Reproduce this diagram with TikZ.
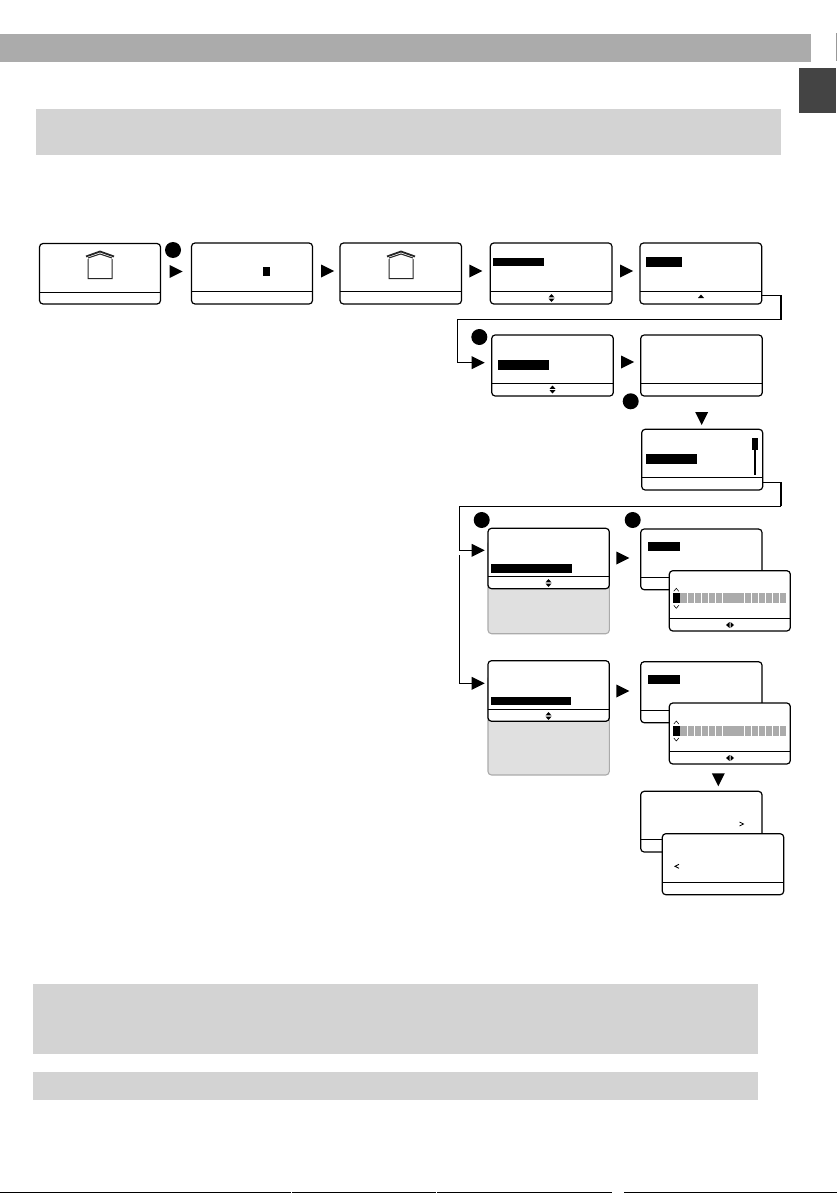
\documentclass[tikz,border=0pt]{standalone}
\definecolor{bandA}{HTML}{ABABAB}
\definecolor{bandB}{HTML}{D3D3D3}
\definecolor{tabC}{HTML}{444444}
\definecolor{noteF}{HTML}{E0E0E0}
\definecolor{cellC}{HTML}{ABABAB}
\tikzset{
  screenbox/.style={draw=black,fill=white,line width=1.2pt,rounded corners=3.5pt,inner sep=0pt,outer sep=0pt,anchor=center},
  notebox/.style={draw=bandA,fill=noteF,line width=1.1pt,rounded corners=3.5pt,inner sep=0pt,outer sep=0pt,anchor=center},
  divider/.style={line width=.9pt},
  heavyconn/.style={line width=1.3pt,line cap=butt,line join=miter},
  thinconn/.style={line width=.9pt,line cap=butt,line join=miter},
  chev/.style={line width=.55pt},
  badge/.style={circle,fill=black,minimum size=16pt,inner sep=0pt,outer sep=0pt}
}
% name x1 y1 x2 y2 ydiv
\newcommand{\scrn}[6]{%
  \pgfmathsetmacro{\mycx}{(#2+#4)/2}\pgfmathsetmacro{\mycy}{(#3+#5)/2}%
  \pgfmathsetmacro{\mywd}{#4-#2}\pgfmathsetmacro{\myht}{#5-#3}%
  \node[screenbox,minimum width=\mywd pt,minimum height=\myht pt] (#1) at (\mycx,\mycy) {};%
  \draw[divider] (#1.west |- 0,#6) -- (#1.east |- 0,#6);}
\newcommand{\notep}[5]{%
  \pgfmathsetmacro{\mycx}{(#2+#4)/2}\pgfmathsetmacro{\mycy}{(#3+#5)/2}%
  \pgfmathsetmacro{\mywd}{#4-#2}\pgfmathsetmacro{\myht}{#5-#3}%
  \node[notebox,minimum width=\mywd pt,minimum height=\myht pt] (#1) at (\mycx,\mycy) {};}
\newcommand{\barfill}[4]{\fill[black] (#1,#2) rectangle (#3,#4);}
\newcommand{\rtri}[3]{\coordinate (#1) at (#2,#3); \fill[black] (#2,#3-6.5) -- (#2+13,#3) -- (#2,#3+6.5) -- cycle;}
\newcommand{\dtri}[3]{\coordinate (#1) at (#2,#3); \fill[black] (#2-6.5,#3) -- (#2+6.5,#3) -- (#2,#3+13) -- cycle;}
\newcommand{\updown}[2]{\fill[black] (#1-3,#2-.6) -- (#1+3,#2-.6) -- (#1,#2-4) -- cycle; \fill[black] (#1-3,#2+.6) -- (#1+3,#2+.6) -- (#1,#2+4) -- cycle;}
\newcommand{\leftright}[2]{\fill[black] (#1-.5,#2-3) -- (#1-.5,#2+3) -- (#1-4,#2) -- cycle; \fill[black] (#1+.5,#2-3) -- (#1+.5,#2+3) -- (#1+4,#2) -- cycle;}
\newcommand{\house}[1]{%
  \draw[line width=1pt,draw=black!85] (#1-12,278.5) -- (#1-12,257) -- (#1,252.5) -- (#1+12,257) -- (#1+12,278.5) -- cycle;
  \fill[white] (#1-14,256) -- (#1,252) -- (#1+14,256) -- (#1+14,259.5) -- (#1,255) -- (#1-14,259.5) -- cycle;
  \draw[line width=1pt,draw=black!85] (#1-12,258) -- (#1,254) -- (#1+12,258);
  \draw[line width=1.8pt,draw=black!85] (#1-14,256.5) -- (#1,251.5) -- (#1+14,256.5);}
\newcommand{\cellrow}[1]{%
  \fill[black] (673,#1) rectangle (680,#1+10);
  \foreach \i in {1,...,6} {\fill[cellC] (673+\i*7.13+.3,#1) rectangle (673+\i*7.13+6.4,#1+10);}
  \fill[cellC] (723.3,#1) rectangle (744,#1+10);
  \foreach \i in {10,...,15} {\fill[cellC] (673+\i*7.13+.3,#1) rectangle (673+\i*7.13+6.4,#1+10);}
  \draw[chev] (673.8,#1-2) -- (676.3,#1-5) -- (678.8,#1-2);
  \draw[chev] (673.8,#1+12) -- (676.3,#1+15) -- (678.8,#1+12);}
\begin{document}
\begin{tikzpicture}[x=1pt,y=-1pt]
\useasboundingbox (0,0) rectangle (837,1193);
% page bands
\fill[bandA] (0,34) rectangle (811,62);
\fill[black!40] (836,33) rectangle (837,61);
\fill[tabC] (799,68) rectangle (836,113);
\fill[bandB] (36,109) rectangle (781,155);
\fill[bandB] (33,984) rectangle (758,1054);
\fill[bandB] (33,1072) rectangle (758,1100);
\fill[black] (0,1192) rectangle (291,1193);
\fill[black] (292,1192) rectangle (436,1193);
\fill[black] (437,1192) rectangle (612,1193);
\fill[black] (624,1192) rectangle (837,1193);
% row 1
\scrn{s1}{39.5}{243.5}{160.5}{304}{292.5}
\house{100}
\scrn{s2}{191.5}{243}{312.5}{304}{291}
\barfill{263}{267}{270}{276}
\scrn{s3}{340}{243}{461.5}{304}{291}
\house{401}
\scrn{s4}{490.3}{243}{612}{304}{291}
\barfill{493}{258}{544}{266}
\updown{551.5}{298}
\scrn{s5}{640}{243}{761.7}{304}{291}
\barfill{646}{257}{682}{267}
\fill[black] (698,298) -- (704,298) -- (701,294.5) -- cycle;
\node[badge] (b1) at (173,250) {};
\rtri{a1}{169.7}{271.5}
\rtri{a2}{321}{271}
\rtri{a3}{469.3}{271}
\rtri{a4}{620}{271}
% row 2
\scrn{s6}{491.7}{335}{613.3}{396}{383.3}
\barfill{498}{360}{549}{370}
\updown{552.5}{389.5}
\scrn{s7}{640.7}{335}{762.3}{396}{383.3}
\node[badge] (b2) at (479.3,337) {};
\node[badge] (b3) at (630.7,401.3) {};
\rtri{a5}{471.7}{362.7}
\rtri{a6}{621}{362}
\draw[heavyconn] (s5.east |- 0,295.5) -| (781,319.4) -| (457.7,362.7) -- (a5);
\dtri{a7}{701.7}{412}
% row 3
\scrn{s8}{641.7}{429.3}{762.7}{490}{477.3}
\barfill{646}{454}{697}{464}
\barfill{752}{438}{758}{450}
\fill[black] (754,450) rectangle (756,475);
\draw[heavyconn] (s8.east |- 0,482.7) -| (781,506.3);
% row 4
\rtri{a8}{471.7}{550.3}
\rtri{a9}{471.7}{683.3}
\coordinate (t1) at (781,506.3);
\coordinate (t2) at (459.3,555);
\draw[thinconn] (t1) -| (459.3,550.3) -- (a8);
\draw[thinconn] (t2) |- (a9);
\notep{n1}{488}{540}{609.3}{633.7}
\scrn{s9}{488}{528.3}{609.3}{588.7}{576.3}
\barfill{491}{564}{572}{573}
\updown{548.5}{583}
\node[badge] (b4) at (481.7,520) {};
\node[badge] (b5) at (632.7,520) {};
\rtri{a10}{616.3}{558}
\scrn{s10}{640.7}{529}{762}{589.7}{577.3}
\barfill{648}{542}{680}{551}
\scrn{s11}{669.3}{570.7}{790.3}{631}{618.3}
\cellrow{593.3}
\leftright{730}{625}
% row 5
\notep{n2}{488}{675}{609.3}{775}
\scrn{s12}{488}{660.7}{609.3}{721.3}{709.3}
\barfill{491}{697}{571}{705}
\updown{548.5}{716}
\rtri{a11}{616.3}{691}
\scrn{s13}{640.7}{661.7}{762}{722.7}{710.3}
\barfill{648}{675}{680}{684}
\scrn{s14}{669.3}{703}{790.3}{764}{751.3}
\cellrow{726}
\leftright{730}{758}
\dtri{a12}{718.3}{773.3}
% row 6
\scrn{s15}{640.7}{791.3}{762}{852}{839.3}
\draw[line width=.8pt] (739.5,822) -- (743.5,824) -- (739.5,826);
\scrn{s16}{662.3}{833.7}{783.7}{894.7}{882.3}
\draw[line width=.8pt] (679,864.3) -- (675,866.3) -- (679,868.3);
\end{tikzpicture}
\end{document}
